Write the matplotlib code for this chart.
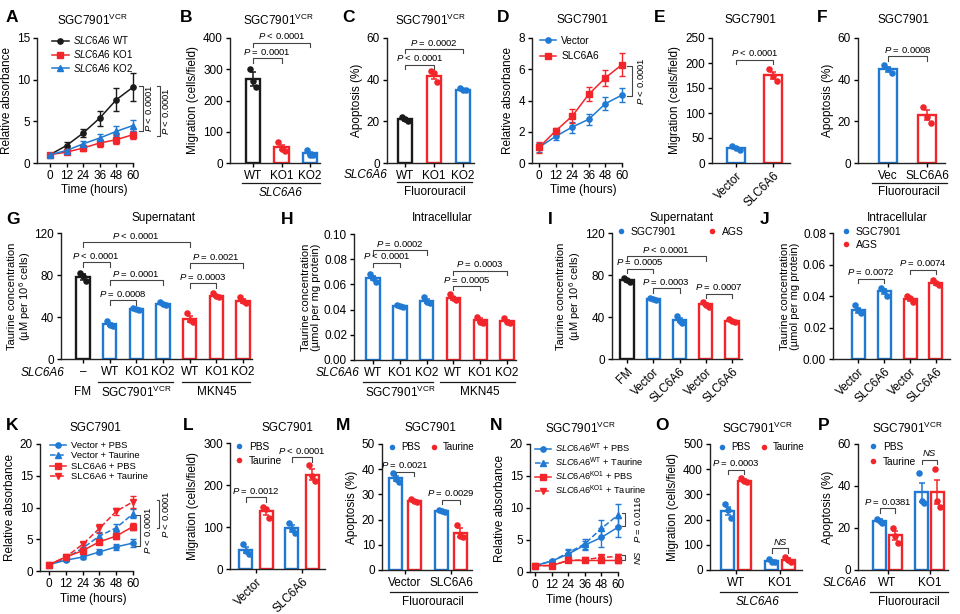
import numpy as np
import matplotlib
matplotlib.use('Agg')
import matplotlib.pyplot as plt
from matplotlib.lines import Line2D
from matplotlib.ticker import FormatStrFormatter

plt.rcParams.update({
    'font.family': ['Liberation Sans', 'DejaVu Sans'],
    'font.size': 8.5,
    'mathtext.fontset': 'custom',
    'mathtext.rm': 'Liberation Sans',
    'mathtext.it': 'Liberation Sans:italic',
    'mathtext.bf': 'Liberation Sans:bold',
    'axes.linewidth': 1.0,
    'axes.edgecolor': '#222222',
    'xtick.major.size': 3, 'ytick.major.size': 3,
    'xtick.major.pad': 2, 'ytick.major.pad': 2,
    'xtick.major.width': 1, 'ytick.major.width': 1,
    'xtick.labelsize': 8.5, 'ytick.labelsize': 8.5,
    'axes.labelsize': 8.5,
})

BLK = '#1a1a1a'
BLU = '#2079d2'
RED = '#f2252a'
GRY = '#444444'
VCR = r'SGC7901$^{\mathrm{VCR}}$'

# ---------------- data ----------------
hours = [0, 12, 24, 36, 48, 60]

# A
a_wt = [1.0, 2.1, 3.6, 5.4, 7.6, 9.1]
a_wt_e = [0.1, 0.4, 0.5, 0.9, 1.4, 1.7]
a_ko1 = [1.0, 1.3, 1.8, 2.4, 2.8, 3.4]
a_ko1_e = [0.1, 0.2, 0.35, 0.45, 0.55, 0.5]
a_ko2 = [1.0, 1.5, 2.3, 3.0, 3.8, 4.5]
a_ko2_e = [0.1, 0.2, 0.4, 0.5, 0.6, 0.7]

# B
b_labels = ['WT', 'KO1', 'KO2']
b_mean = [268, 50, 31]
b_err = [22, 9, 5]
b_pts = [[300, 262, 242], [68, 44, 40], [42, 27, 25]]

# C
c_labels = ['WT', 'KO1', 'KO2']
c_mean = [21, 42, 35]
c_err = [0.7, 1.5, 0.5]
c_pts = [[22, 21, 20], [44, 43, 39], [36, 35, 35]]

# D
d_vec = [1.0, 1.7, 2.3, 2.8, 3.8, 4.35]
d_vec_e = [0.3, 0.2, 0.35, 0.35, 0.4, 0.45]
d_slc = [1.0, 2.05, 3.0, 4.4, 5.45, 6.3]
d_slc_e = [0.35, 0.2, 0.45, 0.45, 0.5, 0.75]

# E
e_labels = ['Vector', 'SLC6A6']
e_mean = [30, 176]
e_err = [2, 7]
e_pts = [[34, 30, 27], [188, 175, 165]]

# F
f_labels = ['Vec', 'SLC6A6']
f_mean = [45, 23]
f_err = [1.3, 2.5]
f_pts = [[47, 45, 43], [27, 22, 19]]

# G
g_labels = ['\u2013', 'WT', 'KO1', 'KO2', 'WT', 'KO1', 'KO2']
g_mean = [78, 33, 48, 52, 38, 60, 55]
g_err = [2.5, 1.5, 0.6, 1.0, 2.8, 1.2, 2.0]
g_pts = [[82, 79, 74], [36, 32, 31], [49, 48, 47], [54, 52, 51],
         [44, 37, 35], [63, 60, 59], [59, 55, 53]]

# H
h_labels = ['WT', 'KO1', 'KO2', 'WT', 'KO1', 'KO2']
h_mean = [0.065, 0.043, 0.047, 0.049, 0.032, 0.031]
h_err = [0.0017, 0.0004, 0.0014, 0.001, 0.0015, 0.001]
h_pts = [[0.068, 0.065, 0.062], [0.044, 0.043, 0.042], [0.050, 0.046, 0.045],
         [0.052, 0.049, 0.048], [0.034, 0.030, 0.029], [0.033, 0.030, 0.029]]

# I
i_labels = ['FM', 'Vector', 'SLC6A6', 'Vector', 'SLC6A6']
i_mean = [75, 57, 37, 52, 36]
i_err = [1.3, 0.6, 2.2, 1.2, 0.7]
i_pts = [[77, 75, 73], [58, 57, 56], [41, 36, 34], [54, 51, 50], [38, 36, 35]]

# J
j_labels = ['Vector', 'SLC6A6', 'Vector', 'SLC6A6']
j_mean = [0.031, 0.043, 0.038, 0.048]
j_err = [0.0015, 0.0015, 0.001, 0.0008]
j_pts = [[0.034, 0.031, 0.029], [0.045, 0.043, 0.040],
         [0.040, 0.039, 0.036], [0.050, 0.048, 0.047]]

# K
k_vp = [1.0, 1.7, 2.2, 3.0, 3.8, 4.4]
k_vp_e = [0.2, 0.2, 0.3, 0.4, 0.5, 0.6]
k_vt = [1.0, 2.0, 3.6, 5.5, 6.8, 9.0]
k_vt_e = [0.2, 0.3, 0.5, 0.6, 0.6, 0.7]
k_sp = [1.0, 2.2, 3.2, 4.6, 5.5, 7.0]
k_sp_e = [0.2, 0.2, 0.3, 0.4, 0.5, 0.5]
k_st = [1.0, 2.2, 4.2, 6.7, 9.4, 10.9]
k_st_e = [0.2, 0.2, 0.4, 0.7, 0.6, 0.9]

# L
l_groups = ['Vector', 'SLC6A6']
l_pbs = [45, 97]
l_pbs_e = [8, 8]
l_pbs_pts = [[60, 42, 36], [110, 95, 85]]
l_tau = [137, 225]
l_tau_e = [8, 12]
l_tau_pts = [[148, 143, 122], [248, 222, 210]]

# M
m_groups = ['Vector', 'SLC6A6']
m_pbs = [36.5, 23.5]
m_pbs_e = [1.0, 0.3]
m_pbs_pts = [[38.5, 36, 35], [24, 23.5, 23]]
m_tau = [27.5, 14.8]
m_tau_e = [0.4, 1.7]
m_tau_pts = [[28, 27.5, 27], [18, 13.5, 13]]

# N
n_wp = [1.0, 1.7, 2.8, 4.2, 5.4, 7.0]
n_wp_e = [0.2, 0.2, 0.6, 0.7, 1.5, 1.5]
n_wt = [1.0, 1.7, 3.0, 4.4, 6.8, 8.9]
n_wt_e = [0.2, 0.2, 0.6, 0.8, 1.4, 1.7]
n_kp = [1.0, 1.0, 1.8, 1.8, 1.8, 1.8]
n_kp_e = [0.1, 0.1, 0.2, 0.2, 0.3, 0.4]
n_kt = [1.0, 1.0, 1.8, 1.9, 2.3, 2.4]
n_kt_e = [0.1, 0.1, 0.2, 0.3, 0.4, 0.4]

# O
o_groups = ['WT', 'KO1']
o_pbs = [235, 35]
o_pbs_e = [15, 4]
o_pbs_pts = [[260, 238, 208], [42, 33, 30]]
o_tau = [355, 40]
o_tau_e = [5, 6]
o_tau_pts = [[365, 355, 348], [50, 40, 32]]

# P
p_groups = ['WT', 'KO1']
p_pbs = [23.5, 37]
p_pbs_e = [0.7, 4.5]
p_pbs_pts = [[24.5, 23.5, 22.5], [46, 33, 32]]
p_tau = [16.5, 37]
p_tau_e = [2.0, 5.8]
p_tau_pts = [[20, 16, 13], [48, 33, 30]]

# ---------------- helpers ----------------
W, H = 960, 614
fig = plt.figure(figsize=(9.6, 6.14), dpi=100)


def fx(x):
    return x / W


def fy(y):
    return 1 - y / H


def setup(L, T, R, B, ylim, yticks, ylabel, lfs=8.5, lpad=3):
    ax = fig.add_axes([L / W, 1 - B / H, (R - L) / W, (B - T) / H])
    ax.spines['top'].set_visible(False)
    ax.spines['right'].set_visible(False)
    ax.set_facecolor('none')
    ax.set_ylim(ylim)
    ax.set_yticks(yticks)
    ax.set_ylabel(ylabel, labelpad=lpad, linespacing=1.05, fontsize=lfs)
    return ax


def xmap(ax, L, R, d0, p0, d1, p1):
    s = (p1 - p0) / (d1 - d0)
    ax.set_xlim(d0 + (L - p0) / s, d0 + (R - p0) / s)


def ftext(x, y, s, **kw):
    kw.setdefault('ha', 'center')
    kw.setdefault('va', 'center')
    fig.text(fx(x), fy(y), s, **kw)


def fline(x0, x1, y):
    fig.add_artist(Line2D([fx(x0), fx(x1)], [fy(y), fy(y)],
                          transform=fig.transFigure, color=BLK, lw=0.9))


def letter(x, y, s):
    ftext(x, y, s, ha='left', fontsize=12.5, fontweight='bold')


def bars(ax, xs, means, errs, pts, colors, width):
    for x, m, e, p, c in zip(xs, means, errs, pts, colors):
        ax.bar(x, m, width=width, color='white', edgecolor=c, linewidth=1.7, zorder=2)
        ax.errorbar(x, m, yerr=e, fmt='none', ecolor=c, elinewidth=1.1,
                    capsize=2.5, capthick=1.1, zorder=3)
        offs = np.linspace(-1, 1, len(p)) * width * 0.22
        ax.plot(x + offs, p, 'o', color=c, ms=4.7, mec='none', zorder=4, clip_on=False)


def ptxt(op, v):
    return r'$\mathit{P}$ ' + op + ' ' + v


def bracket(ax, x1, x2, y, txt, italic=False, fs=6.8):
    y0, y1 = ax.get_ylim()
    leg = (y1 - y0) * 0.035
    ax.plot([x1, x1, x2, x2], [y - leg, y, y, y - leg], color=GRY, lw=0.8, clip_on=False)
    ax.text((x1 + x2) / 2, y + (y1 - y0) * 0.012, txt, ha='center', va='bottom',
            fontsize=fs, style='italic' if italic else 'normal')


def vbracket(ax, x, ya, yb, txt, leg, tx, italic=False, fs=6.8):
    ax.plot([x - leg, x, x, x - leg], [ya, ya, yb, yb], color=GRY, lw=0.8, clip_on=False)
    ax.text(tx, (ya + yb) / 2, txt, rotation=90, ha='center', va='center',
            fontsize=fs, style='italic' if italic else 'normal')


def series(ax, y, e, c, m, ls='-'):
    ax.errorbar(hours, y, yerr=e, color=c, marker=m, ms=3.8, lw=1.1, ls=ls,
                elinewidth=1, capsize=2, capthick=1, mec=c, zorder=3, clip_on=False)


def line_legend(ax, specs, labels, x, y, fs=7.0, ls_=0.2, hl=1.7):
    hs = [Line2D([], [], color=c, marker=m, ls=s, lw=1.1, ms=3.8) for c, m, s in specs]
    ax.legend(hs, labels, loc='upper left', bbox_to_anchor=(fx(x), fy(y)),
              bbox_transform=fig.transFigure, frameon=False, borderpad=0,
              borderaxespad=0, handlelength=hl, handletextpad=0.5,
              labelspacing=ls_, fontsize=fs)


def dot_legend(ax, labels, colors, x, y, ncol=1, colsp=1.0, fs=7.5, ls_=0.3):
    hs = [Line2D([], [], ls='none', marker='o', ms=4, color=c, mec='none') for c in colors]
    ax.legend(hs, labels, loc='upper left', bbox_to_anchor=(fx(x), fy(y)),
              bbox_transform=fig.transFigure, frameon=False, borderpad=0,
              borderaxespad=0, handlelength=0.8, handletextpad=0.55,
              labelspacing=ls_, ncol=ncol, columnspacing=colsp, fontsize=fs)


def time_axis(ax, L, R, p0, p60):
    xmap(ax, L, R, 0, p0, 60, p60)
    ax.set_xticks(hours)
    x0, x1 = ax.get_xlim()
    ax.spines['bottom'].set_bounds(x0, 60)
    ax.set_xlabel('Time (hours)')
    ax.xaxis.set_label_coords((32 - x0) / (x1 - x0), -0.17)


# ---------------- row 1 ----------------
# A
ax = setup(37, 38, 136, 163, (0, 15), [0, 5, 10, 15], 'Relative absorbance')
time_axis(ax, 37, 136, 50, 133)
series(ax, a_wt, a_wt_e, BLK, 'o')
series(ax, a_ko1, a_ko1_e, RED, 's')
series(ax, a_ko2, a_ko2_e, BLU, '^')
line_legend(ax, [(BLK, 'o', '-'), (RED, 's', '-'), (BLU, '^', '-')],
            [r'$\mathit{SLC6A6}$ WT', r'$\mathit{SLC6A6}$ KO1', r'$\mathit{SLC6A6}$ KO2'],
            52, 34)
vbracket(ax, 67.0, 9.2, 3.9, ptxt('<', '0.0001'), 2.8, 71.5)
vbracket(ax, 79.5, 9.2, 3.3, ptxt('<', '0.0001'), 2.2, 83.5)
letter(6, 18, 'A')
ftext(92, 20, VCR)

# B
ax = setup(230, 38, 320, 163, (0, 400), [0, 100, 200, 300, 400], 'Migration (cells/field)')
xmap(ax, 230, 320, 0, 253, 2, 310)
bars(ax, np.arange(3), b_mean, b_err, b_pts, [BLK, RED, BLU], 0.52)
ax.set_xticks(np.arange(3))
ax.set_xticklabels(b_labels)
bracket(ax, 0, 1, 335, ptxt('=', '0.0001'))
bracket(ax, 0, 2, 385, ptxt('<', '0.0001'))
fline(242, 320, 183)
ftext(281, 193, 'SLC6A6', style='italic')
letter(180, 18, 'B')
ftext(278, 20, VCR)

# C
ax = setup(387, 38, 474, 163, (0, 60), [0, 20, 40, 60], 'Apoptosis (%)')
xmap(ax, 387, 474, 0, 405, 2, 463)
bars(ax, np.arange(3), c_mean, c_err, c_pts, [BLK, RED, BLU], 0.5)
ax.set_xticks(np.arange(3))
ax.set_xticklabels(c_labels)
bracket(ax, 0, 1, 47.2, ptxt('<', '0.0001'))
bracket(ax, 0, 2, 54.7, ptxt('=', '0.0002'))
ftext(366, 175, 'SLC6A6', style='italic')
fline(397, 472, 182)
ftext(435, 192, 'Fluorouracil')
letter(342, 18, 'C')
ftext(430, 20, VCR)

# D
ax = setup(532, 38, 625, 163, (0, 8), [0, 2, 4, 6, 8], 'Relative absorbance')
time_axis(ax, 532, 625, 539, 622)
series(ax, d_vec, d_vec_e, BLU, 'o')
series(ax, d_slc, d_slc_e, RED, 's')
line_legend(ax, [(BLU, 'o', '-'), (RED, 's', '-')], ['Vector', 'SLC6A6'],
            540, 36, fs=7.3, ls_=0.5, hl=1.6)
vbracket(ax, 67.2, 6.2, 4.3, ptxt('<', '0.0001'), 3.6, 73.5)
letter(497, 18, 'D')
ftext(582, 20, 'SGC7901')

# E
ax = setup(712, 38, 790, 163, (0, 250), [0, 50, 100, 150, 200, 250], 'Migration (cells/field)')
xmap(ax, 712, 790, 0, 736, 1, 773)
bars(ax, np.arange(2), e_mean, e_err, e_pts, [BLU, RED], 0.48)
ax.set_xticks(np.arange(2))
ax.set_xticklabels(e_labels, rotation=45, ha='right', rotation_mode='anchor')
bracket(ax, 0, 1, 207, ptxt('<', '0.0001'))
letter(654, 18, 'E')
ftext(750, 20, 'SGC7901')

# F
ax = setup(858, 38, 945, 163, (0, 60), [0, 20, 40, 60], 'Apoptosis (%)')
xmap(ax, 858, 945, 0, 888, 1, 927)
bars(ax, np.arange(2), f_mean, f_err, f_pts, [BLU, RED], 0.45)
ax.set_xticks(np.arange(2))
ax.set_xticklabels(f_labels)
bracket(ax, 0, 1, 51.2, ptxt('=', '0.0008'))
fline(872, 947, 183)
ftext(909, 192, 'Fluorouracil')
letter(817, 18, 'F')
ftext(903, 20, 'SGC7901')

# ---------------- row 2 ----------------
taur_um = 'Taurine concentration\n' + r'(µM per 10$^{6}$ cells)'
taur_umol = 'Taurine concentration\n(µmol per mg protein)'

# G
ax = setup(61, 233, 252, 359, (0, 120), [0, 40, 80, 120], taur_um, lfs=8, lpad=1)
xmap(ax, 61, 252, 0, 83, 6, 243)
bars(ax, np.arange(7), g_mean, g_err, g_pts, [BLK] + [BLU] * 3 + [RED] * 3, 0.5)
ax.set_xticks(np.arange(7))
ax.set_xticklabels(g_labels)
bracket(ax, 1, 2, 56, ptxt('=', '0.0008'))
bracket(ax, 1, 3, 75, ptxt('=', '0.0001'))
bracket(ax, 0, 1, 92, ptxt('<', '0.0001'))
bracket(ax, 0, 4, 111, ptxt('<', '0.0001'))
bracket(ax, 4, 5, 72, ptxt('=', '0.0003'))
bracket(ax, 4, 6, 91, ptxt('=', '0.0021'))
ftext(43, 373, 'SLC6A6', style='italic')
fline(98, 173, 382)
fline(182, 250, 382)
ftext(83, 392, 'FM')
ftext(136, 392, VCR)
ftext(217, 392, 'MKN45')
letter(6, 220, 'G')
ftext(163, 218, 'Supernatant')

# H
ax = setup(354, 234, 516, 360, (0, 0.1), [0, 0.02, 0.04, 0.06, 0.08, 0.10], taur_umol,
           lfs=8, lpad=2)
ax.yaxis.set_major_formatter(FormatStrFormatter('%.2f'))
xmap(ax, 354, 516, 0, 373, 5, 507)
bars(ax, np.arange(6), h_mean, h_err, h_pts, [BLU] * 3 + [RED] * 3, 0.5)
ax.set_xticks(np.arange(6))
ax.set_xticklabels(h_labels)
bracket(ax, 0, 1, 0.077, ptxt('<', '0.0001'))
bracket(ax, 0, 2, 0.087, ptxt('=', '0.0002'))
bracket(ax, 3, 4, 0.0587, ptxt('=', '0.0005'))
bracket(ax, 3, 5, 0.071, ptxt('=', '0.0003'))
ftext(338, 373, 'SLC6A6', style='italic')
fline(363, 433, 382)
fline(440, 515, 382)
ftext(400, 392, VCR)
ftext(480, 392, 'MKN45')
letter(281, 220, 'H')
ftext(442, 218, 'Intracellular')

# I
ax = setup(612, 233, 742, 359, (0, 120), [0, 40, 80, 120], taur_um, lfs=8, lpad=2)
xmap(ax, 612, 742, 0, 627, 4, 732)
bars(ax, np.arange(5), i_mean, i_err, i_pts, [BLK, BLU, BLU, RED, RED], 0.5)
ax.set_xticks(np.arange(5))
ax.set_xticklabels(i_labels, rotation=45, ha='right', rotation_mode='anchor')
bracket(ax, 0, 1, 86, ptxt('=', '0.0005'))
bracket(ax, 0, 3, 98, ptxt('<', '0.0001'))
bracket(ax, 1, 2, 67.5, ptxt('=', '0.0003'))
bracket(ax, 3, 4, 62, ptxt('=', '0.0007'))
dot_legend(ax, ['SGC7901', 'AGS'], [BLU, RED], 617, 227, ncol=2, colsp=3.0)
letter(548, 220, 'I')
ftext(682, 218, 'Supernatant')

# J
ax = setup(833, 233, 950, 359, (0, 0.08), [0, 0.02, 0.04, 0.06, 0.08], taur_umol,
           lfs=8, lpad=2)
ax.yaxis.set_major_formatter(FormatStrFormatter('%.2f'))
xmap(ax, 833, 950, 0, 858, 3, 936)
bars(ax, np.arange(4), j_mean, j_err, j_pts, [BLU, BLU, RED, RED], 0.5)
ax.set_xticks(np.arange(4))
ax.set_xticklabels(j_labels, rotation=45, ha='right', rotation_mode='anchor')
bracket(ax, 0, 1, 0.051, ptxt('=', '0.0072'))
bracket(ax, 2, 3, 0.0567, ptxt('=', '0.0074'))
dot_legend(ax, ['SGC7901', 'AGS'], [BLU, RED], 842, 227)
letter(760, 220, 'J')
ftext(897, 218, 'Intracellular')

# ---------------- row 3 ----------------
# K
ax = setup(40, 444, 138, 571, (0, 20), [0, 5, 10, 15, 20], 'Relative absorbance')
time_axis(ax, 40, 138, 49, 133)
series(ax, k_vp, k_vp_e, BLU, 'o', '-')
series(ax, k_vt, k_vt_e, BLU, '^', '--')
series(ax, k_sp, k_sp_e, RED, 's', '-')
series(ax, k_st, k_st_e, RED, 'v', '--')
line_legend(ax, [(BLU, 'o', '-'), (BLU, '^', '--'), (RED, 's', '-'), (RED, 'v', '--')],
            ['Vector + PBS', 'Vector + Taurine', 'SLC6A6 + PBS', 'SLC6A6 + Taurine'],
            50, 441, fs=6.8, ls_=0.15)
vbracket(ax, 65.0, 8.8, 4.0, ptxt('<', '0.0001'), 3.5, 70.7)
vbracket(ax, 78.6, 11.2, 6.8, ptxt('<', '0.0001'), 1.6, 83.6)
letter(6, 425, 'K')
ftext(95, 428, 'SGC7901')

# L
ax = setup(230, 443, 325, 569, (0, 300), [0, 100, 200, 300], 'Migration (cells/field)')
xmap(ax, 230, 325, 0, 256, 1, 302)
gx = np.arange(2)
bars(ax, gx - 0.22, l_pbs, l_pbs_e, l_pbs_pts, [BLU, BLU], 0.28)
bars(ax, gx + 0.22, l_tau, l_tau_e, l_tau_pts, [RED, RED], 0.28)
ax.set_xticks(gx)
ax.set_xticklabels(l_groups, rotation=45, ha='right', rotation_mode='anchor')
bracket(ax, -0.22, 0.22, 171, ptxt('=', '0.0012'))
bracket(ax, 0.78, 1.22, 266, ptxt('<', '0.0001'))
dot_legend(ax, ['PBS', 'Taurine'], [BLU, RED], 235, 442, fs=7.3, ls_=0.35)
letter(183, 425, 'L')
ftext(287, 428, 'SGC7901')

# M
ax = setup(382, 444, 472, 570, (0, 50), [0, 10, 20, 30, 40, 50], 'Apoptosis (%)')
xmap(ax, 382, 472, 0, 405, 1, 451)
bars(ax, gx - 0.2, m_pbs, m_pbs_e, m_pbs_pts, [BLU, BLU], 0.28)
bars(ax, gx + 0.2, m_tau, m_tau_e, m_tau_pts, [RED, RED], 0.28)
ax.set_xticks(gx)
ax.set_xticklabels(m_groups)
bracket(ax, -0.2, 0.2, 39, ptxt('=', '0.0021'))
bracket(ax, 0.8, 1.2, 27.8, ptxt('=', '0.0029'))
dot_legend(ax, ['PBS', 'Taurine'], [BLU, RED], 388, 442, ncol=2, colsp=1.0, fs=7.0)
fline(390, 477, 592)
ftext(433, 602, 'Fluorouracil')
letter(336, 425, 'M')
ftext(430, 428, 'SGC7901')

# N
ax = setup(530, 444, 622, 572, (0, 20), [0, 5, 10, 15, 20], 'Relative absorbance')
time_axis(ax, 530, 622, 535, 618)
series(ax, n_wp, n_wp_e, BLU, 'o', '-')
series(ax, n_wt, n_wt_e, BLU, '^', '--')
series(ax, n_kp, n_kp_e, RED, 's', '-')
series(ax, n_kt, n_kt_e, RED, 'v', '--')
line_legend(ax, [(BLU, 'o', '-'), (BLU, '^', '--'), (RED, 's', '-'), (RED, 'v', '--')],
            [r'$\mathit{SLC6A6}^{\mathrm{WT}}$ + PBS', r'$\mathit{SLC6A6}^{\mathrm{WT}}$ + Taurine',
             r'$\mathit{SLC6A6}^{\mathrm{KO1}}$ + PBS', r'$\mathit{SLC6A6}^{\mathrm{KO1}}$ + Taurine'],
            535, 442, fs=6.7, ls_=0.05)
vbracket(ax, 65.0, 9.2, 7.2, ptxt('=', '0.0116'), 2.2, 74.5)
vbracket(ax, 65.0, 2.6, 1.9, 'NS', 2.2, 74.5, italic=True)
letter(490, 425, 'N')
ftext(580, 428, VCR)

# O
ax = setup(710, 444, 802, 570, (0, 500), [0, 100, 200, 300, 400, 500], 'Migration (cells/field)')
xmap(ax, 710, 802, 0, 736, 1, 780)
bars(ax, gx - 0.19, o_pbs, o_pbs_e, o_pbs_pts, [BLU, BLU], 0.3)
bars(ax, gx + 0.19, o_tau, o_tau_e, o_tau_pts, [RED, RED], 0.3)
ax.set_xticks(gx)
ax.set_xticklabels(o_groups)
bracket(ax, -0.19, 0.19, 398, ptxt('=', '0.0003'))
bracket(ax, 0.81, 1.19, 86, 'NS', italic=True)
dot_legend(ax, ['PBS', 'Taurine'], [BLU, RED], 718, 442, ncol=2, colsp=1.0, fs=7.0)
fline(720, 797, 592)
ftext(758, 602, 'SLC6A6', style='italic')
letter(655, 425, 'O')
ftext(757, 428, VCR)

# P
ax = setup(858, 444, 948, 570, (0, 60), [0, 20, 40, 60], 'Apoptosis (%)')
xmap(ax, 858, 948, 0, 887.5, 1, 929.5)
bars(ax, gx - 0.19, p_pbs, p_pbs_e, p_pbs_pts, [BLU, BLU], 0.32)
bars(ax, gx + 0.19, p_tau, p_tau_e, p_tau_pts, [RED, RED], 0.32)
ax.set_xticks(gx)
ax.set_xticklabels(p_groups)
bracket(ax, -0.19, 0.19, 29.4, ptxt('=', '0.0381'))
bracket(ax, 0.81, 1.19, 52.5, 'NS', italic=True)
dot_legend(ax, ['PBS', 'Taurine'], [BLU, RED], 869, 442, fs=7.3, ls_=0.45)
ftext(845, 583, 'SLC6A6', style='italic')
fline(870, 948, 592)
ftext(909, 602, 'Fluorouracil')
letter(818, 425, 'P')
ftext(907, 428, VCR)

fig.savefig('out.png', dpi=100)
